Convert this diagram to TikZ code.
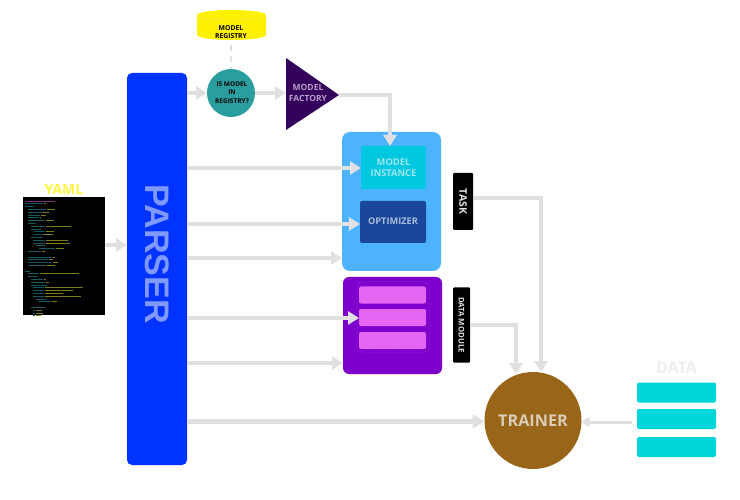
\documentclass[tikz,border=0pt]{standalone}
\usepackage{fontspec}
\setmainfont{Open Sans}
\newfontfamily\parserfont{Liberation Sans}
\usetikzlibrary{arrows.meta,shapes.geometric}
\definecolor{conn}{HTML}{E0E0E0}
\definecolor{parserblue}{HTML}{0033FF}
\definecolor{parsertext}{HTML}{7F99FF}
\definecolor{teal1}{HTML}{2A9D9F}
\definecolor{factory}{HTML}{33005C}
\definecolor{factorytext}{HTML}{B9A0C9}
\definecolor{taskblue}{HTML}{4DB3FF}
\definecolor{inst}{HTML}{00C8E0}
\definecolor{insttext}{HTML}{A0E6EF}
\definecolor{optim}{HTML}{1A4799}
\definecolor{optimtext}{HTML}{A9BCDC}
\definecolor{dmpurple}{HTML}{7F00CC}
\definecolor{dmbar}{HTML}{E566F2}
\definecolor{dmdot}{HTML}{A64DDB}
\definecolor{trainer}{HTML}{996619}
\definecolor{trainertext}{HTML}{D9CCB8}
\definecolor{databar}{HTML}{00D6D9}
\definecolor{datatext}{HTML}{EEEEEE}
\definecolor{codekey}{HTML}{145A60}
\definecolor{codeval}{HTML}{7C7C18}
\definecolor{codecom}{HTML}{803080}
\tikzset{
  x=1pt,y=1pt,
  conn3/.style={draw=conn,line width=4pt,-{Triangle[length=11pt,width=13pt]}},
  conn4/.style={draw=conn,line width=5pt,-{Triangle[length=12pt,width=14pt]}},
  conn2/.style={draw=conn,line width=3pt,-{Triangle[length=8pt,width=10pt]}},
  box/.style={rectangle,inner sep=0pt,outer sep=0pt,rounded corners=#1},
  box/.default=3pt,
  lbl/.style={font=\bfseries,align=center,inner sep=0pt},
  tag/.style={rectangle,fill=black,inner sep=0pt,outer sep=0pt,rounded corners=1pt},
  tagtext/.style={rotate=-90,text=conn,font=\bfseries,inner sep=0pt}
}
\begin{document}
\begin{tikzpicture}
\useasboundingbox (0,0) rectangle (740,-500);

% free ends of connectors
\coordinate (p0) at (187,-93);
\coordinate (p1) at (187,-168);
\coordinate (p2) at (187,-224);
\coordinate (p3) at (187,-258);
\coordinate (p4) at (187,-318);
\coordinate (p5) at (187,-363);
\coordinate (p6) at (187,-421.5);
\coordinate (y0) at (105,-245);
\coordinate (f1) at (390,-95);
\coordinate (t1) at (473,-198);
\coordinate (t2) at (541,-198);
\coordinate (d1) at (470,-325);
\coordinate (d2) at (516,-325);

% parser
\node[box=5pt,fill=parserblue,minimum width=60pt,minimum height=392pt] (parser) at (157,-269) {};
\node[rotate=-90,text=parsertext,font=\parserfont\bfseries\fontsize{34}{34}\selectfont,inner sep=0pt] (parsertxt) at (157,-254) {PARSER};

% yaml
\node[fill=black,minimum width=82pt,minimum height=118pt,inner sep=0pt,outer sep=0pt] (yaml) at (64,-256) {};
\node[lbl,text=yellow!75!white,font=\bfseries\fontsize{14}{14}\selectfont] (yamltxt) at (64,-189) {YAML};
\draw[codecom,line width=.8pt] (25,-201) -- (55,-201);
\foreach \i/\ind/\k/\v in {1/0/18/2,2/0/9/0,3/3/18/8,4/3/14/6,5/3/12/5,6/3/11/1,7/3/17/8,8/3/8/0,9/6/14/25,10/6/10/0,11/9/11/8,12/9/8/10,13/6/11/0,14/8/12/22,15/8/12/24,16/11/9/0,17/14/16/8,18/3/13/3,20/3/24/2,21/3/20/4,22/3/24/5,23/3/18/8,25/0/5/0,26/3/11/39,27/3/9/0,28/6/12/2,29/6/14/3,30/6/16/0,31/8/11/38,32/8/11/28,33/8/11/18,34/8/11/36,35/11/10/0,36/14/12/5,38/6/14/0,39/8/2/6,40/8/2/7,41/8/2/5}{
  \pgfmathsetmacro\yy{-201-2.8*\i}
  \pgfmathsetmacro\xa{25+\ind}
  \pgfmathsetmacro\xb{25+\ind+\k}
  \pgfmathsetmacro\xc{25+\ind+\k+\v}
  \draw[codekey,line width=.8pt] (\xa,\yy) -- (\xb,\yy);
  \ifdim\v pt>0pt \draw[codeval,line width=.8pt] (\xb+1,\yy) -- (\xc+1,\yy);\fi
}

% registry cylinder
\fill[yellow] (197,-15) arc[start angle=180,end angle=360,x radius=34.5,y radius=5] -- (266,-35) arc[start angle=360,end angle=180,x radius=34.5,y radius=5] -- cycle;
\fill[yellow] (231.5,-15) ellipse[x radius=34.5,y radius=5];
\draw[yellow!85!black!70!white,line width=.3pt] (197,-15) arc[start angle=180,end angle=360,x radius=34.5,y radius=5];
\node[lbl,font=\bfseries\fontsize{6.8}{8.2}\selectfont,text=black] (registry) at (231,-32) {MODEL\\REGISTRY};
\coordinate (regbot) at (231,-45);

% is model in registry
\node[circle,fill=teal1,minimum size=48pt,inner sep=0pt,outer sep=0pt] (ismodel) at (231,-93) {};
\node[lbl,font=\bfseries\fontsize{6.5}{8.2}\selectfont,text=black] (ismodeltxt) at (232,-92.5) {IS MODEL\\IN\\REGISTRY?};

% factory
\fill[factory] (286,-58) -- (339,-95) -- (286,-130) -- cycle;
\coordinate (factl) at (286,-93);
\coordinate (factr) at (339,-95);
\node[lbl,font=\fontsize{8.5}{10.5}\selectfont\bfseries,text=factorytext] (facttxt) at (308,-93) {MODEL\\FACTORY};

% task group
\node[box=8pt,fill=taskblue,minimum width=99pt,minimum height=139pt] (taskgrp) at (391.5,-201.5) {};
\node[box=2pt,fill=inst,minimum width=65pt,minimum height=43pt] (inst1) at (393.5,-167.5) {};
\node[lbl,font=\bfseries\fontsize{9.3}{11.5}\selectfont,text=insttext] (insttxt) at (393.5,-167.5) {MODEL\\INSTANCE};
\node[box=2pt,fill=optim,minimum width=66pt,minimum height=42pt] (opt) at (393,-222) {};
\node[lbl,font=\bfseries\fontsize{9.2}{11}\selectfont,text=optimtext] (opttxt) at (393,-221.5) {OPTIMIZER};
\node[tag,minimum width=20pt,minimum height=57pt] (task) at (463,-201.5) {};
\node[tagtext,font=\bfseries\fontsize{10.5}{11}\selectfont] (tasktxt) at (463,-201.5) {TASK};

% data module group
\node[box=6pt,fill=dmpurple,minimum width=99pt,minimum height=97pt] (dmgrp) at (392.5,-325.5) {};
\node[box=5pt,draw=dmdot,densely dotted,line width=.5pt,minimum width=72pt,minimum height=70pt] (dmdots) at (393,-317) {};
\node[box=2pt,fill=dmbar,minimum width=67pt,minimum height=17pt] (bar1) at (392.5,-295) {};
\node[box=2pt,fill=dmbar,minimum width=67pt,minimum height=17pt] (bar2) at (392.5,-317.5) {};
\node[box=2pt,fill=dmbar,minimum width=67pt,minimum height=17pt] (bar3) at (392.5,-340.5) {};
\node[tag,minimum width=17pt,minimum height=75pt] (dm) at (461.5,-325) {};
\node[tagtext,font=\bfseries\fontsize{7.8}{8}\selectfont] (dmtxt) at (461.5,-325) {DATA MODULE};

% trainer
\node[circle,fill=trainer,minimum size=97pt,inner sep=0pt,outer sep=0pt] (trn) at (533,-420.5) {};
\node[lbl,font=\bfseries\fontsize{16.2}{16}\selectfont,text=trainertext] (trntxt) at (533,-421) {TRAINER};

% data
\node[lbl,font=\bfseries\fontsize{16}{16}\selectfont,text=datatext] (datatxt) at (676.5,-368) {DATA};
\node[box=2pt,fill=databar,minimum width=79pt,minimum height=20pt] (data1) at (676.5,-392.5) {};
\node[box=2pt,fill=databar,minimum width=79pt,minimum height=20pt] (data2) at (676.5,-419) {};
\node[box=2pt,fill=databar,minimum width=79pt,minimum height=20pt] (data3) at (676.5,-447) {};
\coordinate (dataout) at (632,-422);

% connectors
\draw[conn3] (y0) -- (parser.west |- y0);
\draw[conn3] (p0) -- (ismodel.west |- p0);
\draw[conn3] (ismodel.east) -- (factl);
\draw[draw=conn,line width=2pt,dash pattern=on 6pt off 5pt] (regbot) -- (ismodel.north);
\draw[conn3] (factr) -- (f1) -- (f1 |- inst1.north);
\draw[conn3] (p1) -- (inst1.west |- p1);
\draw[conn3] (p2) -- (opt.west |- p2);
\draw[conn3] (p3) -- (taskgrp.west |- p3);
\draw[conn3] (p4) -- (bar2.west |- p4);
\draw[conn3] (p5) -- (dmgrp.west |- p5);
\draw[conn4] (p6) -- (trn.west |- p6);
\draw[conn3] (t1) -- (t2) -- (t2 |- trn.north);
\draw[conn3] (d1) -- (d2) -- (516,-374);
\draw[conn2] (dataout) -- (trn.east |- dataout);
\end{tikzpicture}
\end{document}
